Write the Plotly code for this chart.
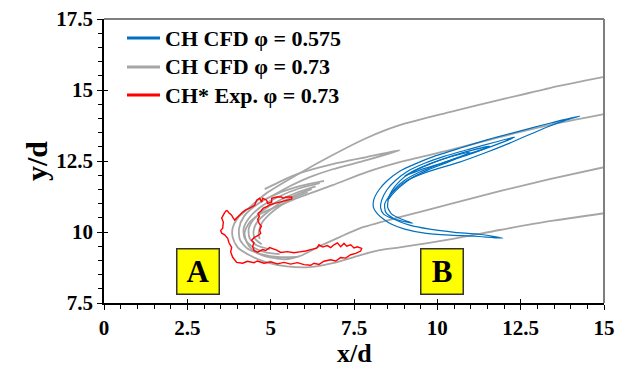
import plotly.graph_objects as go

# ---------------- data (x/d, y/d) ----------------
# Gray: CH CFD phi = 0.73
G1_X = [15.0, 13.37, 11.87, 10.37, 8.87, 7.88, 6.86, 5.87, 4.88, 4.37, 4.01, 3.86, 3.86, 4.01, 4.37, 4.88, 5.48, 6.17, 6.86, 7.67, 8.27, 8.87, 10.37, 11.87, 13.37, 15.0]
G1_Y = [15.46, 15.07, 14.65, 14.22, 13.76, 13.31, 12.71, 12.07, 11.37, 10.87, 10.49, 10.14, 9.82, 9.46, 9.18, 8.93, 8.79, 8.76, 8.90, 9.18, 9.36, 9.46, 9.74, 10.07, 10.38, 10.66]

G2_X = [15.0, 13.37, 11.87, 10.37, 8.87, 7.88, 6.86, 5.87, 5.27, 4.73, 4.37, 4.22, 4.28, 4.46, 4.82, 5.42, 5.87, 6.47, 7.07, 7.67, 8.87, 10.37, 11.87, 13.37, 15.0]
G2_Y = [14.15, 13.77, 13.34, 12.88, 12.46, 12.11, 11.65, 11.23, 10.94, 10.66, 10.34, 9.99, 9.64, 9.36, 9.15, 9.04, 9.15, 9.50, 9.82, 10.13, 10.52, 10.98, 11.44, 11.86, 12.28]

T_X = [4.82, 5.36, 5.87, 6.86, 7.88, 8.87, 7.88, 6.86, 6.17, 5.57, 5.03]
T_Y = [11.51, 11.82, 12.07, 12.39, 12.64, 12.88, 12.53, 12.21, 11.93, 11.61, 11.26]

B4_X = [6.60, 5.90, 5.20, 4.60, 4.20, 4.05, 4.08, 4.30, 4.70, 5.20, 5.80]
B4_Y = [11.80, 11.62, 11.35, 10.98, 10.55, 10.12, 9.72, 9.42, 9.22, 9.12, 9.12]
B0_X = [6.47, 5.87, 5.27, 4.73, 4.37, 4.19, 4.22, 4.43, 4.82, 5.27]
B0_Y = [11.72, 11.54, 11.26, 10.91, 10.52, 10.13, 9.78, 9.50, 9.29, 9.22]
B1_X = [6.35, 5.81, 5.27, 4.82, 4.49, 4.34, 4.37, 4.58, 4.97]
B1_Y = [11.61, 11.40, 11.12, 10.80, 10.45, 10.10, 9.78, 9.53, 9.39]
B2_X = [6.23, 5.75, 5.27, 4.91, 4.61, 4.49, 4.52, 4.73]
B2_Y = [11.51, 11.30, 11.01, 10.70, 10.38, 10.06, 9.78, 9.57]
B3_X = [6.11, 5.66, 5.27, 4.97, 4.73, 4.64, 4.67]
B3_Y = [11.40, 11.19, 10.91, 10.63, 10.31, 9.99, 9.75]

# Blue: CH CFD phi = 0.575
L1_X = [14.27, 13.37, 12.47, 11.57, 10.67, 9.92, 9.32, 8.87, 8.51, 8.24, 8.09, 8.09, 8.21, 8.39, 8.63, 9.02, 9.62, 10.37, 11.12, 11.96, 11.27, 10.52, 9.77, 9.17, 8.72, 8.45, 8.42, 8.55, 8.75, 9.10, 9.68, 10.67, 11.42, 12.17, 13.28, 13.82, 14.27]
L1_Y = [14.08, 13.83, 13.55, 13.27, 12.95, 12.67, 12.39, 12.14, 11.82, 11.47, 11.12, 10.84, 10.63, 10.45, 10.27, 10.10, 9.96, 9.89, 9.85, 9.78, 9.92, 9.99, 10.10, 10.24, 10.45, 10.70, 10.98, 11.25, 11.50, 11.82, 12.11, 12.46, 12.78, 13.13, 13.69, 13.92, 14.08]
L2_X = [12.32, 11.72, 10.97, 10.22, 9.62, 9.11, 8.75, 8.48, 8.33, 8.30, 8.39, 8.63, 8.96, 9.26, 8.93, 8.63, 8.51, 8.54, 8.72, 9.02, 9.47, 10.07, 10.73, 11.57, 12.32]
L2_Y = [13.34, 13.16, 12.92, 12.67, 12.42, 12.14, 11.82, 11.47, 11.12, 10.84, 10.63, 10.49, 10.38, 10.31, 10.45, 10.63, 10.87, 11.19, 11.51, 11.82, 12.11, 12.39, 12.67, 12.99, 13.34]
L3_X = [10.97, 10.37, 9.77, 9.23, 8.87, 8.63, 8.51, 8.63, 8.87, 9.23, 9.71, 10.32, 10.97]
L3_Y = [12.81, 12.64, 12.39, 12.11, 11.79, 11.44, 11.12, 11.30, 11.58, 11.90, 12.18, 12.46, 12.81]
L4_X = [11.57, 10.82, 10.07, 9.47, 9.02, 9.47, 10.13, 10.91, 11.57]
L4_Y = [13.02, 12.81, 12.53, 12.25, 11.97, 12.18, 12.42, 12.71, 13.02]

# Red: CH* Exp. phi = 0.73
RED_X = [3.68, 3.62, 3.53, 3.58, 3.56, 3.50, 3.53, 3.62, 3.71, 3.75, 3.83, 3.80, 3.86, 3.92, 3.98, 4.16,
         4.30, 4.50, 4.60, 4.80, 5.00, 5.20, 5.40, 5.60, 5.80, 6.00, 6.20, 6.30, 6.45, 6.60, 6.80, 6.95,
         7.10, 7.25, 7.40, 7.55, 7.70, 7.73, 7.60, 7.50, 7.40, 7.28, 7.20, 7.10, 7.00, 6.90, 6.80, 6.70,
         6.56, 6.45, 6.38, 6.20, 6.05, 5.87, 5.70, 5.50, 5.30, 5.18, 5.05, 4.97, 4.85, 4.76, 4.61, 4.50,
         4.46, 4.50, 4.43, 4.50, 4.61, 4.70, 4.67, 4.72, 4.65, 4.61, 4.66, 4.62, 4.70, 4.78, 4.90, 4.97,
         5.10, 5.27, 5.40, 5.48, 5.63, 5.63, 5.48, 5.36, 5.33, 5.18, 5.03, 5.03, 4.91, 4.88, 4.76, 4.73,
         4.67, 4.58, 4.52, 4.37, 4.25, 4.16, 4.07, 3.98, 3.92, 3.86, 3.83, 3.76, 3.71, 3.68]
RED_Y = [10.77, 10.68, 10.49, 10.35, 10.13, 10.05, 9.96, 9.90, 9.78, 9.62, 9.46, 9.30, 9.11, 9.00, 8.93, 8.90,
         8.97, 8.92, 8.98, 8.90, 8.95, 8.88, 8.93, 8.87, 8.92, 8.85, 8.83, 8.90, 8.86, 8.97, 9.02, 8.98,
         9.10, 9.08, 9.20, 9.25, 9.33, 9.42, 9.48, 9.44, 9.55, 9.50, 9.60, 9.48, 9.62, 9.55, 9.45, 9.52,
         9.47, 9.55, 9.43, 9.38, 9.33, 9.30, 9.27, 9.31, 9.28, 9.36, 9.40, 9.45, 9.35, 9.38, 9.29, 9.35,
         9.50, 9.62, 9.71, 9.80, 9.87, 9.95, 10.07, 10.20, 10.31, 10.45, 10.55, 10.65, 10.73, 10.84, 10.90, 10.96,
         11.00, 11.05, 11.08, 11.12, 11.16, 11.23, 11.23, 11.19, 11.23, 11.23, 11.19, 11.05, 11.01, 11.12, 11.19, 11.05,
         11.19, 11.12, 10.94, 10.84, 10.78, 10.70, 10.59, 10.50, 10.42, 10.52, 10.59, 10.66, 10.72, 10.77]

SERIES_NAMES = ["CH CFD φ = 0.575", "CH CFD φ = 0.73", "CH* Exp. φ = 0.73"]
SERIES_COLORS = ["#0070C0", "#A6A6A6", "#FF0000"]

LABELS = ["A", "B"]
LABEL_X = [2.83, 10.13]
LABEL_Y = [8.62, 8.62]

X_TICKS = [0, 2.5, 5, 7.5, 10, 12.5, 15]
X_TICKTEXT = ["0", "2.5", "5", "7.5", "10", "12.5", "15"]
Y_TICKS = [7.5, 10, 12.5, 15, 17.5]
Y_TICKTEXT = ["7.5", "10", "12.5", "15", "17.5"]
X_TITLE = "x/d"
Y_TITLE = "y/d"


def join(curves):
    xs, ys = [], []
    for cx, cy in curves:
        xs += list(cx) + [None]
        ys += list(cy) + [None]
    return xs, ys


FONT = "Liberation Serif"
fig = go.Figure()

gx, gy = join([(G1_X, G1_Y), (G2_X, G2_Y), (T_X, T_Y), (B4_X, B4_Y), (B0_X, B0_Y), (B1_X, B1_Y),
               (B2_X, B2_Y), (B3_X, B3_Y)])
bx, by = join([(L1_X, L1_Y), (L2_X, L2_Y), (L3_X, L3_Y), (L4_X, L4_Y)])

fig.add_trace(go.Scatter(x=gx, y=gy, mode="lines", name=SERIES_NAMES[1],
                         line=dict(color=SERIES_COLORS[1], width=1.8, shape="spline", smoothing=0.7),
                         showlegend=False, hoverinfo="skip"))
fig.add_trace(go.Scatter(x=bx, y=by, mode="lines", name=SERIES_NAMES[0],
                         line=dict(color=SERIES_COLORS[0], width=1.2, shape="spline", smoothing=0.6),
                         showlegend=False, hoverinfo="skip"))
fig.add_trace(go.Scatter(x=RED_X, y=RED_Y, mode="lines", name=SERIES_NAMES[2],
                         line=dict(color=SERIES_COLORS[2], width=1.4),
                         showlegend=False, hoverinfo="skip"))

# inside halves of the major ticks
fig.add_trace(go.Scatter(x=[None], y=[None], xaxis="x2", yaxis="y2", showlegend=False))

# legend (drawn in the upper-left corner of the plot)
LEG_ROW_Y = [0.933, 0.831, 0.732]
for name, col, ry in zip(SERIES_NAMES, SERIES_COLORS, LEG_ROW_Y):
    fig.add_shape(type="line", xref="paper", yref="paper", x0=0.046, x1=0.112, y0=ry, y1=ry,
                  line=dict(color=col, width=3))
    fig.add_annotation(xref="paper", yref="paper", x=0.118, y=ry, xanchor="left", yanchor="middle",
                       text=name, showarrow=False,
                       font=dict(family=FONT, size=22, color="black", weight="bold"))

for t, lx, ly in zip(LABELS, LABEL_X, LABEL_Y):
    fig.add_annotation(x=lx, y=ly, text="<b>%s</b>" % t, showarrow=False,
                       font=dict(family=FONT, size=31, color="black"),
                       bgcolor="#FFFF00", bordercolor="#333333", borderwidth=1.5,
                       width=39, height=42, xref="x", yref="y")

# x-axis title
fig.add_annotation(xref="paper", yref="paper", x=0.5, y=-0.178, xanchor="center", yanchor="middle",
                   text=X_TITLE, showarrow=False,
                   font=dict(family=FONT, size=26, color="black", weight="bold"))

# top and right frame
fig.add_shape(type="line", xref="paper", yref="paper", x0=0, x1=1, y0=1, y1=1,
              line=dict(color="#7F7F7F", width=2))
fig.add_shape(type="line", xref="paper", yref="paper", x0=1, x1=1, y0=0, y1=1,
              line=dict(color="#7F7F7F", width=2))

axis_common = dict(showgrid=False, zeroline=False, showline=True, linecolor="black", linewidth=1.5,
                   ticks="outside", ticklen=5, tickwidth=1.3, tickcolor="black", automargin=False,
                   tickfont=dict(family=FONT, size=21, color="black", weight="bold"))

fig.update_layout(
    width=619, height=369,
    margin=dict(l=104, r=15, t=19, b=66),
    paper_bgcolor="white", plot_bgcolor="white",
    showlegend=False,
    xaxis=dict(range=[0, 15], tickvals=X_TICKS, ticktext=X_TICKTEXT,
               minor=dict(dtick=0.5, ticks="outside", ticklen=4, tickcolor="black", tickwidth=1.2),
               **axis_common),
    yaxis=dict(range=[7.5, 17.5], tickvals=Y_TICKS, ticktext=Y_TICKTEXT,
               minor=dict(dtick=0.5, ticks="outside", ticklen=4, tickcolor="black", tickwidth=1.2),
               title=dict(text=Y_TITLE, font=dict(family=FONT, size=30, color="black", weight="bold"), standoff=0),
               **axis_common),
    xaxis2=dict(overlaying="x", matches="x", anchor="y", side="bottom", range=[0, 15], tickvals=X_TICKS,
                ticks="inside", ticklen=4, tickwidth=1.3, tickcolor="black", showticklabels=False,
                showgrid=False, zeroline=False, showline=False, automargin=False),
    yaxis2=dict(overlaying="y", matches="y", anchor="x", side="left", range=[7.5, 17.5], tickvals=Y_TICKS,
                ticks="inside", ticklen=4, tickwidth=1.3, tickcolor="black", showticklabels=False,
                showgrid=False, zeroline=False, showline=False, automargin=False),
)

fig.write_html("out.html", config={"displayModeBar": False},
               post_script="document.body.style.margin='0';")
